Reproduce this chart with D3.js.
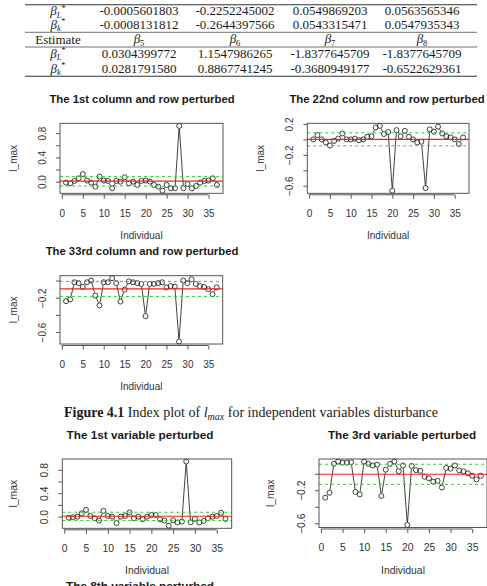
<!DOCTYPE html>
<html>
<head>
<meta charset="utf-8">
<script src="https://cdn.jsdelivr.net/npm/d3@7"></script>
<style>
  body { margin: 0; background: #fff; }
</style>
</head>
<body>
<svg id="page" width="487" height="586"></svg>
<script>
// ---- table values ----
const headSubsB = ["5", "6", "7", "8"];
const rowL1 = ["-0.0005601803", "-0.2252245002", "0.0549869203", "0.0563565346"];
const rowK1 = ["-0.0008131812", "-0.2644397566", "0.0543315471", "0.0547935343"];
const rowL2 = ["0.0304399772", "1.1547986265", "-1.8377645709", "-1.8377645709"];
const rowK2 = ["0.0281791580", "0.8867741245", "-0.3680949177", "-0.6522629361"];

// ---- index plot values ----
const individuals = [1, 2, 3, 4, 5, 6, 7, 8, 9, 10, 11, 12, 13, 14, 15, 16, 17, 18, 19, 20,
  21, 22, 23, 24, 25, 26, 27, 28, 29, 30, 31, 32, 33, 34, 35, 36, 37];
const xTicks = [0, 5, 10, 15, 20, 25, 30, 35];

const col1Lmax = [-0.017, -0.028, 0.011, 0.055, 0.125, 0.017, -0.017, -0.083, 0.083, 0.017,
  0.011, -0.11, 0.011, 0, 0.072, -0.028, 0, -0.055, 0.011, 0.017,
  0, -0.055, -0.083, -0.15, -0.055, -0.11, -0.11, 0.92, -0.11, -0.039,
  -0.11, -0.072, -0.017, 0.011, 0.017, 0.055, -0.055];
const col22Lmax = [0, 0.056, 0, -0.04, -0.08, -0.02, 0.01, 0.077, 0, 0,
  0.01, -0.01, 0, 0.034, 0.04, 0.155, 0.175, 0.07, 0.095, -0.665,
  0.12, 0.04, 0.11, 0.034, 0, -0.04, -0.03, -0.63, 0.13, 0.1,
  0.165, 0.077, 0.04, 0.026, 0, -0.06, 0.026];
const col33Lmax = [-0.24, -0.22, -0.02, -0.03, -0.075, -0.02, 0.0, -0.175, -0.29, -0.02,
  -0.02, 0.027, -0.03, -0.245, -0.105, -0.01, -0.02, -0.03, -0.04, -0.415,
  -0.04, -0.04, -0.03, -0.02, -0.08, -0.065, -0.07, -0.71, 0.0, -0.03,
  0.015, -0.04, -0.065, -0.075, -0.1, -0.16, -0.08];
const var1Lmax = [-0.017, -0.011, 0, 0.056, 0.115, 0.011, -0.028, -0.067, 0.1, 0.011,
  0, -0.11, 0, 0.011, 0.072, -0.028, 0, -0.045, 0, 0.028,
  0.028, -0.045, -0.067, -0.155, -0.062, -0.1, -0.084, 0.94, -0.095, -0.039,
  -0.1, -0.073, -0.028, 0, 0.011, 0.067, -0.04];
const var3Lmax = [-0.29, -0.23, 0.12, 0.148, 0.135, 0.135, 0.14, -0.22, -0.25, 0.148,
  0.12, 0.1, 0.11, -0.27, 0.05, 0.12, 0.148, 0.03, 0.1, -0.62,
  0.095, 0.044, 0.035, -0.036, -0.055, -0.095, -0.085, -0.166, 0.07, 0.063,
  0.1, 0.04, 0.03, 0.005, -0.024, -0.067, -0.024];

// mean line and the two dashed cut-offs, per plot
const col1Ref = [0.008, 0.082, -0.072];
const col22Ref = [0.0, 0.085, -0.083];
const col33Ref = [-0.097, -0.01, -0.185];
const var1Ref = [0.008, 0.075, -0.065];
const var3Ref = [-0.006, 0.115, -0.128];

const yTicksPos = [0, 0.2, 0.4, 0.6, 0.8];
const yTicksWide = [-0.6, -0.4, -0.2, 0, 0.2];
const yTicksNeg = [-0.6, -0.4, -0.2, 0];

const svg = d3.select("#page");
const sans = "'Liberation Sans', Arial, Helvetica, sans-serif";
const serif = "'Liberation Serif', 'Times New Roman', serif";

// ---- table ----
const table = svg.append("g").attr("font-family", serif).attr("font-size", 13).attr("fill", "#1a1a1a");
const colX = [58, 139, 235, 330, 422];

[[4.7, 1.1], [32.3, 0.7], [47, 0.7], [76.3, 1.1]].forEach(([yy, w]) => {
  table.append("line")
    .attr("x1", 25).attr("x2", 477).attr("y1", yy).attr("y2", yy)
    .attr("stroke", "#333").attr("stroke-width", w);
});

function beta(sel, sub, star, italicSub) {
  sel.append("tspan").attr("font-style", "italic").text("β");
  sel.append("tspan").attr("font-size", 8.5).attr("dy", 2.5)
    .attr("font-style", italicSub ? "italic" : "normal").text(sub);
  if (star) sel.append("tspan").attr("font-size", 9).attr("dy", -7).text("*");
}

function tableRow(y, sub, cells) {
  beta(table.append("text").attr("x", colX[0]).attr("y", y).attr("text-anchor", "middle"), sub, true, true);
  cells.forEach((c, i) => {
    table.append("text").attr("x", colX[i + 1]).attr("y", y).attr("text-anchor", "middle").text(c);
  });
}

tableRow(15.3, "L", rowL1);
tableRow(28.6, "k", rowK1);
table.append("text").attr("x", colX[0]).attr("y", 43.6).attr("text-anchor", "middle").text("Estimate");
headSubsB.forEach((s, i) => {
  beta(table.append("text").attr("x", colX[i + 1]).attr("y", 43.2).attr("text-anchor", "middle"), s, false, false);
});
tableRow(57.6, "L", rowL2);
tableRow(72.6, "k", rowK2);

// caption
const cap = svg.append("text").attr("x", 251).attr("y", 417).attr("text-anchor", "middle")
  .attr("font-family", serif).attr("font-size", 14).attr("fill", "#1a1a1a");
cap.append("tspan").attr("font-weight", "bold").text("Figure 4.1");
cap.append("tspan").text(" Index plot of ");
cap.append("tspan").attr("font-style", "italic").text("l");
cap.append("tspan").attr("font-style", "italic").attr("font-size", 10).attr("dy", 3).text("max");
cap.append("tspan").attr("dy", -3).text(" for independent variables disturbance");

// ---- index plots ----
const plots = [
  { title: "The 1st column and row perturbed", values: col1Lmax, ref: col1Ref, yTicks: yTicksPos,
    box: { left: 60, right: 223, top: 123.3, bottom: 193.3 }, titleX: 142, yLabX: 17, fs: 1 },
  { title: "The 22nd column and row perturbed", values: col22Lmax, ref: col22Ref, yTicks: yTicksWide,
    box: { left: 307.3, right: 469, top: 123.3, bottom: 193.3 }, titleX: 387, yLabX: 264, fs: 1 },
  { title: "The 33rd column and row perturbed", values: col33Lmax, ref: col33Ref, yTicks: yTicksNeg,
    box: { left: 60, right: 222.7, top: 275.7, bottom: 344 }, titleX: 142, yLabX: 17, fs: 1 },
  { title: "The 1st variable perturbed", values: var1Lmax, ref: var1Ref, yTicks: yTicksPos,
    box: { left: 62.3, right: 231.7, top: 459, bottom: 528.3 }, titleX: 140, yLabX: 17, fs: 1.04 },
  { title: "The 3rd variable perturbed", values: var3Lmax, ref: var3Ref, yTicks: yTicksNeg,
    box: { left: 319, right: 487, top: 459, bottom: 527.5 }, titleX: 402, yLabX: 274, fs: 1.04 }
];

const fmt = d3.format(".1f");

function drawPlot(p) {
  const b = p.box;
  const g = svg.append("g").attr("font-family", sans);
  const xr = d3.extent(individuals), xp = (xr[1] - xr[0]) * 0.04;
  const yr = d3.extent(p.values), yp = (yr[1] - yr[0]) * 0.04;

  const x = d3.scaleLinear().domain([xr[0] - xp, xr[1] + xp]).range([b.left, b.right]);
  const y = d3.scaleLinear().domain([yr[0] - yp, yr[1] + yp]).range([b.bottom, b.top]);

  // title
  g.append("text").attr("x", p.titleX).attr("y", b.top - 20.5).attr("text-anchor", "middle")
    .attr("font-weight", "bold").attr("font-size", 11.3 * p.fs).attr("fill", "#1a1a1a").text(p.title);

  // points joined like type = "b"
  const pts = individuals.map((d, i) => [x(d), y(p.values[i])]);
  const r = 2.5, gap = r + 0.5;
  d3.pairs(pts).forEach(([a, c]) => {
    const dx = c[0] - a[0], dy = c[1] - a[1], len = Math.hypot(dx, dy);
    if (len <= 2 * gap) return;
    const ux = dx / len, uy = dy / len;
    g.append("line")
      .attr("x1", a[0] + ux * gap).attr("y1", a[1] + uy * gap)
      .attr("x2", c[0] - ux * gap).attr("y2", c[1] - uy * gap)
      .attr("stroke", "#111").attr("stroke-width", 0.8);
  });
  g.selectAll("circle.pt").data(pts).join("circle").attr("class", "pt")
    .attr("cx", d => d[0]).attr("cy", d => d[1]).attr("r", r)
    .attr("fill", "none").attr("stroke", "#111").attr("stroke-width", 0.8);

  // mean and cut-off lines
  g.append("line").attr("x1", b.left).attr("x2", b.right)
    .attr("y1", y(p.ref[0])).attr("y2", y(p.ref[0]))
    .attr("stroke", "#ee2222").attr("stroke-width", 1.1);
  p.ref.slice(1).forEach(v => {
    g.append("line").attr("x1", b.left).attr("x2", b.right)
      .attr("y1", y(v)).attr("y2", y(v))
      .attr("stroke", "#33cc33").attr("stroke-width", 1).attr("stroke-dasharray", "3,3");
  });

  // box
  g.append("rect").attr("x", b.left).attr("y", b.top)
    .attr("width", b.right - b.left).attr("height", b.bottom - b.top)
    .attr("fill", "none").attr("stroke", "#444").attr("stroke-width", 0.9);

  // x axis
  const xa = g.append("g").attr("transform", `translate(0,${b.bottom + 1.5})`)
    .call(d3.axisBottom(x).tickValues(xTicks).tickSize(4).tickPadding(11).tickSizeOuter(0));
  xa.select(".domain").remove();
  xa.append("line").attr("x1", x(xTicks[0])).attr("x2", x(xTicks[xTicks.length - 1]))
    .attr("stroke", "#444").attr("stroke-width", 0.9);
  xa.selectAll(".tick line").attr("stroke", "#444").attr("stroke-width", 0.9);
  xa.selectAll(".tick text").attr("font-size", 10 * p.fs).attr("fill", "#333").attr("font-family", sans);

  // y axis, R style: rotated labels, every second label shown
  const ya = g.append("g").attr("transform", `translate(${b.left},0)`)
    .call(d3.axisLeft(y).tickValues(p.yTicks).tickSize(4).tickSizeOuter(0)
      .tickFormat((d, i) => (i % 2 === 0 ? fmt(d) : "")));
  ya.select(".domain").remove();
  ya.selectAll(".tick line").attr("stroke", "#444").attr("stroke-width", 0.9);
  ya.selectAll(".tick text")
    .attr("transform", "rotate(-90)").attr("x", 0).attr("y", -14).attr("dy", 0)
    .attr("text-anchor", "middle").attr("font-size", 10 * p.fs).attr("fill", "#333").attr("font-family", sans);

  // axis titles
  g.append("text").attr("x", (b.left + b.right) / 2).attr("y", b.bottom + 46)
    .attr("text-anchor", "middle").attr("font-size", 10 * p.fs).attr("fill", "#333").text("Individual");
  g.append("text").attr("transform", `translate(${p.yLabX},${(b.top + b.bottom) / 2}) rotate(-90)`)
    .attr("text-anchor", "middle").attr("font-size", 10 * p.fs).attr("fill", "#333").text("l_max");
}

plots.forEach(drawPlot);

// next title, cut off by the page edge as in the reference
svg.append("text").attr("x", 140).attr("y", 590).attr("text-anchor", "middle")
  .attr("font-family", sans).attr("font-weight", "bold").attr("font-size", 11.8)
  .attr("fill", "#1a1a1a").text("The 8th variable perturbed");
</script>
</body>
</html>
